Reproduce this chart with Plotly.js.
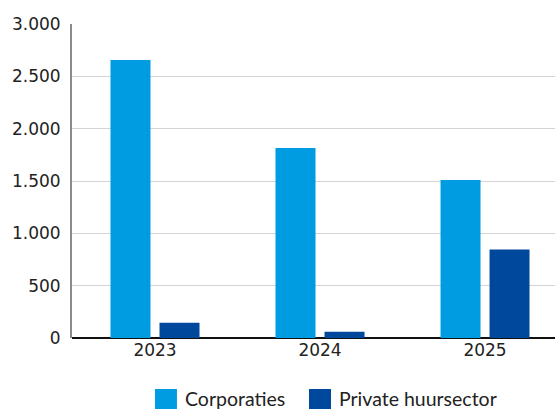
<!DOCTYPE html>
<html>
<head>
<meta charset="utf-8">
<script src="https://cdn.plot.ly/plotly-3.0.1.min.js"></script>
<style>html,body{margin:0;padding:0;background:#fff;}#chart{width:555px;height:409px;}</style>
</head>
<body>
<div id="chart"></div>
<script>
const years = ['2023', '2024', '2025'];
const corporaties = [2655, 1815, 1510];
const privateHuur = [145, 60, 845];
const seriesNames = ['Corporaties', 'Private huursector'];
const seriesColors = ['#009CE1', '#00489B'];
const yTicks = [0, 500, 1000, 1500, 2000, 2500, 3000];

const traces = [
  {type: 'bar', name: seriesNames[0], x: years, y: corporaties, marker: {color: seriesColors[0]}, hoverinfo: 'none'},
  {type: 'bar', name: seriesNames[1], x: years, y: privateHuur, marker: {color: seriesColors[1]}, hoverinfo: 'none'}
];

// custom legend (large squares)
const legendX = [0.1718, 0.4907];
const shapes = [];
const annotations = [];
seriesNames.forEach((n, i) => {
  shapes.push({type: 'rect', xref: 'paper', yref: 'paper', x0: legendX[i], x1: legendX[i] + 0.0455,
    y0: -0.1624, y1: -0.2325, fillcolor: seriesColors[i], line: {width: 0}});
  annotations.push({xref: 'paper', yref: 'paper', x: legendX[i] + 0.0570, y: -0.194, xanchor: 'left', yanchor: 'middle',
    text: n, showarrow: false, font: {family: 'Lato, sans-serif', size: 19.5, color: '#222'}});
});

const layout = {
  width: 555, height: 409,
  margin: {l: 72, r: 0, t: 24, b: 71},
  separators: ',.',
  paper_bgcolor: '#fff', plot_bgcolor: '#fff',
  showlegend: false,
  barmode: 'group',
  bargap: 0.406,
  bargroupgap: 0.184,
  font: {family: 'DejaVu Sans, sans-serif', size: 17, color: '#222'},
  xaxis: {
    type: 'category', range: [-0.503, 2.424],
    showgrid: false, showline: false, ticks: '', zeroline: false,
    tickfont: {family: 'DejaVu Sans, sans-serif', size: 17, color: '#222'}
  },
  yaxis: {
    range: [0, 3000], tickvals: yTicks, tickformat: ',d',
    showgrid: true, gridcolor: '#d4d4d4', gridwidth: 1,
    showline: true, linecolor: '#8c8c8c', linewidth: 2,
    zeroline: true, zerolinecolor: '#111', zerolinewidth: 2,
    ticks: '', ticklabelstandoff: 6,
    tickfont: {family: 'DejaVu Sans, sans-serif', size: 17, color: '#222'}
  },
  shapes: shapes,
  annotations: annotations
};

Plotly.newPlot('chart', traces, layout, {staticPlot: true, displayModeBar: false});
</script>
</body>
</html>
